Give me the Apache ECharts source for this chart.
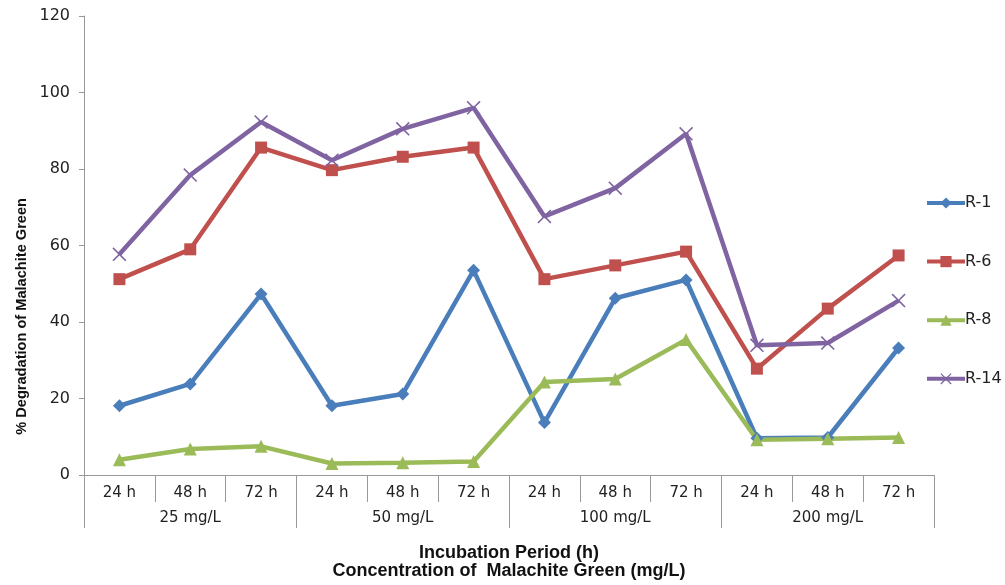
<!DOCTYPE html>
<html>
<head>
<meta charset="utf-8">
<script src="https://cdn.jsdelivr.net/npm/echarts@6/dist/echarts.min.js"></script>
<style>html,body{margin:0;padding:0;background:#fff;}#c{width:1005px;height:585px;}</style>
</head>
<body>
<div id="c"></div>
<script>
var hours = ['24 h','48 h','72 h','24 h','48 h','72 h','24 h','48 h','72 h','24 h','48 h','72 h'];
var groups = ['25 mg/L','50 mg/L','100 mg/L','200 mg/L'];
var yTicks = [0,20,40,60,80,100,120];
var r1  = [18.1, 23.8, 47.3, 18.1, 21.2, 53.5, 13.7, 46.2, 51.0, 9.6, 9.8, 33.2];
var r6  = [51.2, 59.0, 85.6, 79.7, 83.2, 85.6, 51.2, 54.8, 58.4, 27.8, 43.5, 57.4];
var r8  = [4.0, 6.8, 7.5, 3.0, 3.2, 3.5, 24.3, 25.1, 35.4, 9.2, 9.5, 9.8];
var r14 = [57.7, 78.4, 92.3, 82.3, 90.5, 96.0, 67.6, 75.0, 89.2, 33.9, 34.5, 45.6];
var names = ['R-1','R-6','R-8','R-14'];
var colors = ['#4A7EBB','#C0504D','#9BBB59','#8064A2'];
var symbols = ['diamond','rect','triangle','path://M0,0.8L0.8,0L5,4.2L9.2,0L10,0.8L5.8,5L10,9.2L9.2,10L5,5.8L0.8,10L0,9.2L4.2,5Z'];
var symSizes = [13, 12, 13, 14];
var seriesData = [r1, r6, r8, r14];

var chart = echarts.init(document.getElementById('c'));
chart.setOption({
  animation: false,
  color: colors,
  grid: {left: 84, right: 71, top: 16, bottom: 105},
  legend: {
    orient: 'vertical', left: 920, top: 190, itemGap: 42.6,
    itemWidth: 38, itemHeight: 14,
    lineStyle: {width: 4},
    textStyle: {fontFamily: 'DejaVu Sans', fontSize: 16, lineHeight: 14, color: '#222', padding: [0,0,0,-5]},
    data: names
  },
  xAxis: [{
    type: 'category', data: hours, position: 'bottom', boundaryGap: true,
    axisLine: {lineStyle: {color: '#999', width: 1}},
    axisTick: {show: true, interval: 0, length: 27, lineStyle: {color: '#999'}},
    axisLabel: {interval: 0, margin: 11, color: '#222', fontFamily: 'DejaVu Sans', fontSize: 15}
  }, {
    type: 'category', data: groups, position: 'bottom', boundaryGap: true,
    axisLine: {show: false},
    axisTick: {show: true, interval: 0, length: 53, lineStyle: {color: '#999'}},
    axisLabel: {interval: 0, margin: 36, color: '#222', fontFamily: 'DejaVu Sans', fontSize: 15},
    name: 'Incubation Period (h)\nConcentration of  Malachite Green (mg/L)',
    nameLocation: 'middle', nameGap: 69,
    nameTextStyle: {fontFamily: 'Liberation Sans, Arial', fontWeight: 'bold', fontSize: 18, color: '#111', lineHeight: 18}
  }],
  yAxis: {
    type: 'value', min: 0, max: 120, interval: 20,
    axisLine: {show: true, lineStyle: {color: '#999'}},
    axisTick: {show: true, length: 5, lineStyle: {color: '#999'}},
    splitLine: {show: false},
    axisLabel: {margin: 14, color: '#222', fontFamily: 'DejaVu Sans', fontSize: 16,
      formatter: function(v){ return yTicks.indexOf(v) >= 0 ? String(v) : ''; }}
  },
  graphic: [{
    type: 'text', left: 14, top: 198, rotation: Math.PI/2,
    style: {text: '% Degradation of Malachite Green', fill: '#111',
      font: 'bold 14.6px "Liberation Sans", Arial'}
  }],
  series: names.map(function(n, i){
    return {
      name: n, type: 'line', xAxisIndex: 0, data: seriesData[i],
      symbol: symbols[i], symbolSize: symSizes[i], showSymbol: true,
      lineStyle: {width: 4.5, color: colors[i]},
      itemStyle: {color: colors[i]}
    };
  })
});
</script>
</body>
</html>
